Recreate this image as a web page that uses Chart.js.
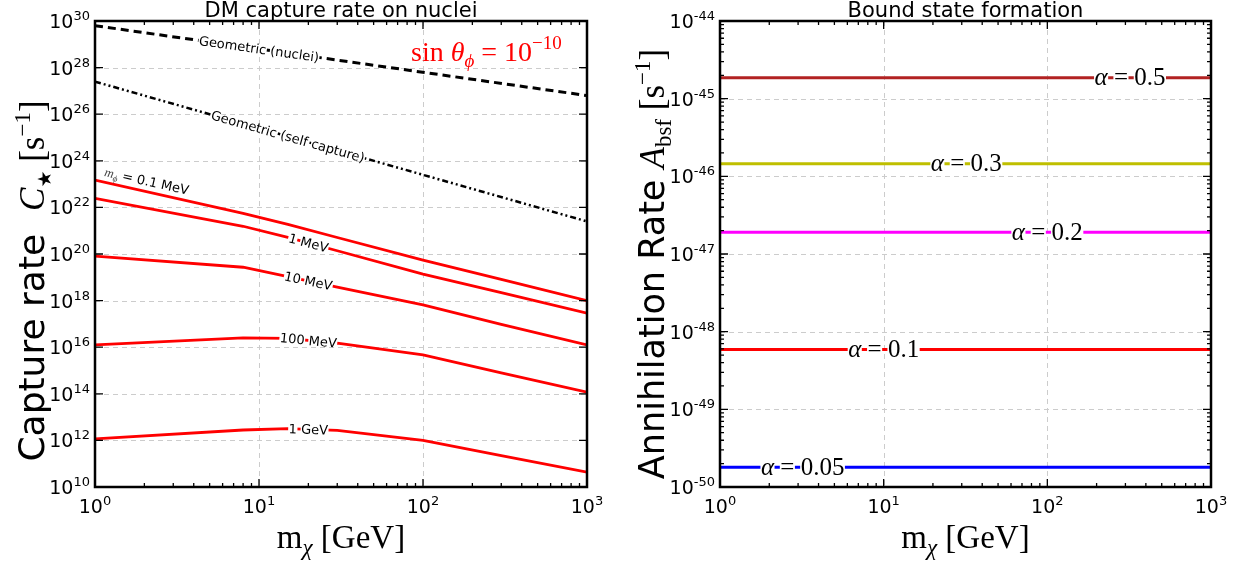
<!DOCTYPE html>
<html>
<head>
<meta charset="utf-8">
<script src="https://cdn.jsdelivr.net/npm/chart.js@4.4.1/dist/chart.umd.min.js"></script>
<style>
  body { margin: 0; background: #fff; }
  canvas { position: absolute; top: 0; }
</style>
</head>
<body>
<canvas id="captureChart" width="620" height="563" style="left:0"></canvas>
<canvas id="bsfChart" width="619" height="563" style="left:620px"></canvas>
<script>
// DM mass grid (GeV)
const massGeV = [1, 8, 15, 30, 100, 300, 1000];
const geoMassGeV = [1, 1000];

// capture rate C* [1/s] for each mediator mass m_phi
const mediatorMasses = ['0.1 MeV', '1 MeV', '10 MeV', '100 MeV', '1 GeV'];
const rate01MeV = [1.48e23, 5.6e21, 1.86e21, 5.1e20, 5.5e19, 8.1e18, 1.0e18];
const rate1MeV = [2.45e22, 1.55e21, 5.2e20, 1.38e20, 1.38e19, 2.2e18, 2.9e17];
const rate10MeV = [8.1e19, 2.7e19, 1.07e19, 3.8e18, 6.5e17, 9.5e16, 1.26e16];
const rate100MeV = [1.26e16, 2.5e16, 2.4e16, 1.48e16, 4.7e15, 7.9e14, 1.17e14];
const rate1GeV = [1.17e12, 2.8e12, 3.2e12, 2.7e12, 1.0e12, 2.2e11, 4.3e10];

// geometric limits
const geoNuclei = [6.3e29, 6.3e26];
const geoSelf = [2.5e27, 2.5e21];

// bound state formation, annihilation rate A_bsf [1/s]
const alphas = ['0.5', '0.3', '0.2', '0.1', '0.05'];
const bsfRates = [1.86e-45, 1.45e-46, 1.9e-47, 5.9e-49, 1.8e-50];
const bsfMassGeV = [1, 1000];

// tick exponents
const massTickExp = [0, 1, 2, 3];
const captureTickExp = [10, 12, 14, 16, 18, 20, 22, 24, 26, 28, 30];
const bsfTickExp = [-50, -49, -48, -47, -46, -45, -44];

const sans = '"DejaVu Sans", sans-serif';
const serif = '"Liberation Serif", "DejaVu Serif", serif';

function pts(xs, ys) {
    return xs.map((x, i) => ({ x: x, y: ys[i] }));
}

// draw a run of text pieces (for sub/superscripts), optionally rotated
function drawRich(ctx, parts, x, y, angle, o) {
    o = o || {};
    ctx.save();
    ctx.translate(x, y);
    ctx.rotate(angle || 0);
    ctx.textBaseline = 'alphabetic';
    ctx.textAlign = 'left';
    let total = 0;
    parts.forEach(p => { ctx.font = p.font; p.w = ctx.measureText(p.t).width; total += p.w; });
    let cx = o.align === 'left' ? 0 : o.align === 'right' ? -total : -total / 2;
    const base = o.base || 0;
    if (o.bg) {
        ctx.fillStyle = '#fff';
        let bx = cx;
        parts.forEach(p => {
            ctx.font = p.font;
            const sp = ctx.measureText(' ').width;
            let off = 0;
            p.t.split(' ').forEach((word, i, arr) => {
                const ww = ctx.measureText(word).width;
                if (word) ctx.fillRect(bx + off - 0.5, -o.bg / 2, ww + 1, o.bg);
                off += ww + (i < arr.length - 1 ? sp : 0);
            });
            bx += p.w;
        });
    }
    parts.forEach(p => {
        ctx.font = p.font;
        ctx.fillStyle = p.color || o.color || '#000';
        ctx.fillText(p.t, cx, base + (p.dy || 0));
        cx += p.w;
    });
    ctx.restore();
}

function tenTo(e) {
    return [
        { t: '10', font: '19px ' + sans },
        { t: String(e), font: '13px ' + sans, dy: -8 }
    ];
}

// put a label on a dataset's line at a given x value, rotated along the line
function lineLabel(chart, dsIndex, atX, parts, o) {
    const meta = chart.getDatasetMeta(dsIndex);
    const px = chart.scales.x.getPixelForValue(atX);
    const el = meta.data;
    let i = 0;
    while (i < el.length - 2 && el[i + 1].x < px) i++;
    const p1 = el[i], p2 = el[i + 1];
    const t = (px - p1.x) / (p2.x - p1.x);
    const py = p1.y + t * (p2.y - p1.y);
    const ang = Math.atan2(p2.y - p1.y, p2.x - p1.x);
    drawRich(chart.ctx, parts, px, py, ang, o);
}

function axesPlugin(o) {
    return {
        id: 'axes_' + o.name,
        beforeDatasetsDraw(chart) {
            const { ctx, chartArea: a, scales: { x, y } } = chart;
            ctx.save();
            ctx.strokeStyle = '#cccccc';
            ctx.lineWidth = 1;
            ctx.setLineDash([5, 4]);
            ctx.beginPath();
            massTickExp.slice(1, -1).forEach(e => {
                const px = Math.round(x.getPixelForValue(10 ** e)) + 0.5;
                ctx.moveTo(px, a.top); ctx.lineTo(px, a.bottom);
            });
            o.yTickExp.slice(1, -1).forEach(e => {
                const py = Math.round(y.getPixelForValue(10 ** e)) + 0.5;
                ctx.moveTo(a.left, py); ctx.lineTo(a.right, py);
            });
            ctx.stroke();
            ctx.restore();
        },
        afterDatasetsDraw(chart) {
            o.labels(chart);
        },
        afterDraw(chart) {
            const { ctx, chartArea: a, scales: { x, y } } = chart;
            ctx.save();
            ctx.strokeStyle = '#000';
            ctx.setLineDash([]);
            ctx.lineWidth = 1.3;
            ctx.beginPath();
            const vt = (px, len) => {
                ctx.moveTo(px, a.bottom); ctx.lineTo(px, a.bottom - len);
                ctx.moveTo(px, a.top); ctx.lineTo(px, a.top + len);
            };
            const ht = (py, len) => {
                ctx.moveTo(a.left, py); ctx.lineTo(a.left + len, py);
                ctx.moveTo(a.right, py); ctx.lineTo(a.right - len, py);
            };
            massTickExp.forEach((e, i) => {
                vt(x.getPixelForValue(10 ** e), 8);
                if (i < massTickExp.length - 1) {
                    for (let m = 2; m < 10; m++) vt(x.getPixelForValue(m * 10 ** e), 4);
                }
            });
            o.yTickExp.forEach((e, i) => {
                ht(y.getPixelForValue(10 ** e), 8);
                if (o.yMinor && i < o.yTickExp.length - 1) {
                    for (let m = 2; m < 10; m++) ht(y.getPixelForValue(m * 10 ** e), 4);
                }
            });
            ctx.stroke();
            ctx.lineWidth = 2.5;
            ctx.strokeRect(a.left, a.top, a.right - a.left, a.bottom - a.top);
            ctx.restore();

            massTickExp.forEach(e => {
                drawRich(ctx, tenTo(e), x.getPixelForValue(10 ** e), a.bottom + 26, 0);
            });
            o.yTickExp.forEach(e => {
                drawRich(ctx, tenTo(e), a.left - 5, y.getPixelForValue(10 ** e) + 7, 0, { align: 'right' });
            });

            const cx = (a.left + a.right) / 2;
            drawRich(ctx, [{ t: o.title, font: '21px ' + sans }], cx, 17, 0);
            drawRich(ctx, [
                { t: 'm', font: '33px ' + serif },
                { t: 'χ', font: 'italic 23px ' + serif, dy: 7 },
                { t: ' [GeV]', font: '33px ' + serif }
            ], cx, 548, 0);
            drawRich(ctx, o.yTitle, o.yTitleX, o.yTitleY, -Math.PI / 2);
            if (o.extra) o.extra(chart);
        }
    };
}

function baseOptions(pad, yMin, yMax) {
    return {
        responsive: false,
        animation: false,
        devicePixelRatio: 1,
        layout: { padding: pad },
        plugins: { legend: { display: false }, tooltip: { enabled: false } },
        elements: { point: { radius: 0 }, line: { tension: 0 } },
        scales: {
            x: { type: 'logarithmic', min: 1, max: 1000, display: false },
            y: { type: 'logarithmic', min: yMin, max: yMax, display: false }
        }
    };
}

// ---------- left: capture rate ----------
const captureSeries = [rate01MeV, rate1MeV, rate10MeV, rate100MeV, rate1GeV];
const captureSets = [
    { data: pts(geoMassGeV, geoNuclei), borderColor: '#000', borderWidth: 3, borderDash: [8, 5] },
    { data: pts(geoMassGeV, geoSelf), borderColor: '#000', borderWidth: 2.5, borderDash: [6, 3, 2, 3, 2, 3] }
].concat(captureSeries.map(s => ({ data: pts(massGeV, s), borderColor: '#ff0000', borderWidth: 2.8 })));

const smallFont = '13px ' + sans;

new Chart(document.getElementById('captureChart'), {
    type: 'line',
    data: { datasets: captureSets },
    options: baseOptions({ left: 95, right: 33, top: 21, bottom: 76 }, 1e10, 1e30),
    plugins: [axesPlugin({
        name: 'capture',
        title: 'DM capture rate on nuclei',
        yTickExp: captureTickExp,
        yMinor: false,
        yTitleX: 44,
        yTitleY: 281,
        yTitle: [
            { t: 'Capture rate  ', font: '36px ' + sans },
            { t: 'C', font: 'italic 35px ' + serif },
            { t: '★', font: '19px ' + sans, dy: 7 },
            { t: ' [s', font: '35px ' + serif },
            { t: '−1', font: '23px ' + serif, dy: -14 },
            { t: ']', font: '35px ' + serif }
        ],
        labels(chart) {
            lineLabel(chart, 0, 10, [{ t: 'Geometric (nuclei)', font: smallFont }], { bg: 6, base: 4.5 });
            lineLabel(chart, 1, 15, [{ t: 'Geometric (self capture)', font: smallFont }], { bg: 6, base: 4.5 });
            lineLabel(chart, 2, 2, [
                { t: 'm', font: 'italic 13px ' + serif, color: '#444' },
                { t: 'ϕ', font: 'italic 9px ' + serif, dy: 3, color: '#444' },
                { t: ' = 0.1 MeV', font: smallFont }
            ], { base: -6 });
            mediatorMasses.slice(1).forEach((m, i) => {
                lineLabel(chart, i + 3, 20, [{ t: m, font: smallFont }], { bg: 6, base: 4.5 });
            });
        },
        extra(chart) {
            drawRich(chart.ctx, [
                { t: 'sin ', font: '28px ' + serif },
                { t: 'θ', font: 'italic 28px ' + serif },
                { t: 'ϕ', font: 'italic 19px ' + serif, dy: 6 },
                { t: ' = 10', font: '28px ' + serif },
                { t: '−10', font: '19px ' + serif, dy: -12 }
            ], 411, 61, 0, { align: 'left', color: '#ff0000' });
        }
    })]
});

// ---------- right: bound state formation ----------
const alphaColors = ['#b22222', '#bfbf00', '#ff00ff', '#ff0000', '#0000ff'];
const alphaLabelAt = [320, 32, 100, 10, 3.2];

new Chart(document.getElementById('bsfChart'), {
    type: 'line',
    data: {
        datasets: bsfRates.map((r, i) => ({
            data: pts(bsfMassGeV, [r, r]),
            borderColor: alphaColors[i],
            borderWidth: 3
        }))
    },
    options: baseOptions({ left: 100, right: 28, top: 21, bottom: 76 }, 1e-50, 1e-44),
    plugins: [axesPlugin({
        name: 'bsf',
        title: 'Bound state formation',
        yTickExp: bsfTickExp,
        yMinor: true,
        yTitleX: 44,
        yTitleY: 264,
        yTitle: [
            { t: 'Annihilation Rate ', font: '35px ' + sans },
            { t: 'A', font: 'italic 35px ' + serif },
            { t: 'bsf', font: '23px ' + serif, dy: 7 },
            { t: ' [s', font: '35px ' + serif },
            { t: '−1', font: '23px ' + serif, dy: -14 },
            { t: ']', font: '35px ' + serif }
        ],
        labels(chart) {
            alphas.forEach((a, i) => {
                lineLabel(chart, i, alphaLabelAt[i], [
                    { t: 'α', font: 'italic 25px ' + serif },
                    { t: ' = ' + a, font: '25px ' + serif }
                ], { bg: 8, base: 7.5 });
            });
        }
    })]
});
</script>
</body>
</html>
